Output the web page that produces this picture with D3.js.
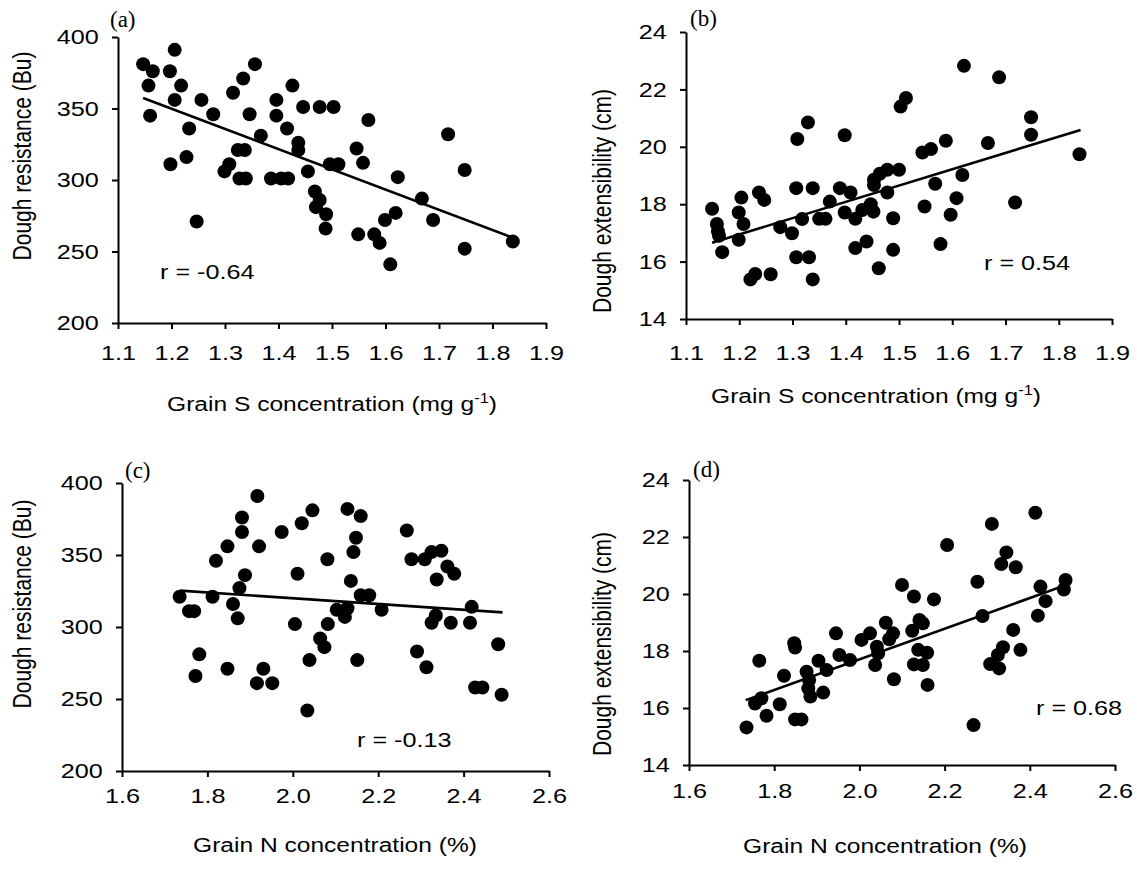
<!DOCTYPE html>
<html>
<head>
<meta charset="utf-8">
<script src="https://cdn.jsdelivr.net/npm/d3@7"></script>
<style>
  html, body { margin: 0; padding: 0; background: #fff; }
  svg { display: block; }
</style>
</head>
<body>
<svg id="chart" width="1137" height="869"></svg>
<script>
// panel (a): grain S vs dough resistance
var sConcA = [1.147,1.165,1.206,1.197,1.157,1.218,1.206,1.160,1.256,1.233,1.278,1.198,1.228,1.247,1.315,1.334,1.356,1.346,1.367,1.299,1.308,1.324,1.337,1.327,1.339,1.396,1.396,1.426,1.416,1.446,1.477,1.437,1.437,1.386,1.405,1.418,1.455,1.468,1.477,1.470,1.489,1.488,1.503,1.568,1.717,1.546,1.558,1.496,1.512,1.748,1.623,1.668,1.619,1.599,1.689,1.549,1.579,1.589,1.609,1.748,1.838];
var resistanceA = [381,376,391,376,366,366,356,345,356,336,346,311,316,271,361,371,381,346,331,306,311,321,321,301,301,356,345,366,336,351,351,326,321,301,301,301,306,292,286,281,276,266,351,342,332,322,312,311,311,307,302,287,277,272,272,262,262,256,241,252,257];

// panel (b): grain S vs dough extensibility
var sConcB = [1.149,1.158,1.160,1.162,1.168,1.204,1.199,1.208,1.199,1.221,1.230,1.237,1.247,1.259,1.277,1.299,1.309,1.329,1.307,1.338,1.318,1.307,1.331,1.338,1.350,1.362,1.370,1.398,1.389,1.409,1.398,1.418,1.431,1.447,1.418,1.439,1.453,1.464,1.462,1.622,1.688,1.513,1.503,1.748,1.748,1.588,1.544,1.560,1.667,1.839,1.500,1.478,1.453,1.619,1.568,1.478,1.608,1.452,1.548,1.597,1.489,1.718,1.489,1.578];
var extensB = [17.84,17.31,17.05,16.90,16.33,18.23,17.71,17.31,16.76,15.38,15.57,18.41,18.15,15.56,17.20,16.99,20.27,20.85,18.56,18.56,17.48,16.15,16.15,15.38,17.49,17.49,18.09,20.40,18.56,18.41,17.71,17.49,17.80,18.00,16.47,16.70,18.67,19.06,15.77,22.82,22.42,21.70,21.40,21.03,20.42,20.21,19.80,19.92,20.13,19.74,19.20,19.20,18.85,19.02,18.71,18.41,18.21,17.74,17.92,17.63,17.51,18.06,16.41,16.61];

// panel (c): grain N vs dough resistance
var nConcC = [1.735,1.757,1.769,1.781,1.772,1.812,1.820,1.847,1.847,1.860,1.871,1.875,1.888,1.881,1.881,1.917,1.921,1.931,1.916,1.952,1.974,2.005,2.011,2.021,2.046,2.039,2.034,2.064,2.074,2.081,2.082,2.128,2.159,2.148,2.142,2.267,2.278,2.309,2.325,2.348,2.362,2.378,2.337,2.136,2.159,2.179,2.103,2.128,2.122,2.208,2.335,2.325,2.370,2.419,2.415,2.151,2.291,2.313,2.481,2.427,2.444,2.489];
var resistanceC = [321,311,311,281,266,321,346,356,271,316,306,327,336,366,376,391,356,271,261,261,366,302,337,372,381,277,242,292,286,347,302,382,377,362,352,367,347,347,352,353,342,337,333,332,322,322,312,313,307,312,308,303,303,314,303,277,283,272,288,258,258,253];

// panel (d): grain N vs dough extensibility
var nConcD = [1.735,1.765,1.755,1.770,1.782,1.813,1.823,1.847,1.849,1.849,1.864,1.876,1.882,1.880,1.885,1.915,1.904,1.923,1.945,1.953,1.978,2.005,2.025,2.041,2.037,2.413,2.311,2.206,2.345,2.333,2.367,2.277,2.484,2.480,2.425,2.437,2.419,2.361,2.378,2.337,2.325,2.307,2.328,2.289,2.100,2.128,2.175,2.141,2.149,2.124,2.062,2.079,2.070,2.044,2.138,2.159,2.128,2.149,2.081,2.160,2.268];
var extensD = [15.32,17.66,16.16,16.34,15.73,16.13,17.13,18.27,18.12,15.60,15.60,17.27,16.98,16.69,16.40,16.54,17.66,17.33,18.62,17.86,17.68,18.39,18.62,18.15,17.51,22.85,22.46,21.72,21.46,21.05,20.94,20.43,20.49,20.16,20.26,19.75,19.24,18.74,18.04,18.13,17.86,17.54,17.39,19.23,20.32,19.91,19.81,19.09,18.97,18.71,18.99,18.62,18.41,17.92,18.04,17.94,17.53,17.51,17.01,16.81,15.40];

// fitted lines: [slope, intercept] and x span
var fitA = [-141.4, 519.5], fitSpanA = [1.147, 1.835];
var fitB = [5.68, 10.13], fitSpanB = [1.149, 1.841];
var fitC = [-20.0, 360.0], fitSpanC = [1.736, 2.491];
var fitD = [5.37, 6.97], fitSpanD = [1.733, 2.486];

var rLabels = ["r = -0.64", "r = 0.54", "r = -0.13", "r = 0.68"];
var panelLabels = ["(a)", "(b)", "(c)", "(d)"];

var sTicks = [1.1, 1.2, 1.3, 1.4, 1.5, 1.6, 1.7, 1.8, 1.9];
var nTicks = [1.6, 1.8, 2.0, 2.2, 2.4, 2.6];
var resistanceTicks = [200, 250, 300, 350, 400];
var extensTicks = [14, 16, 18, 20, 22, 24];

var resistanceTitle = "Dough resistance (Bu)";
var extensTitle = "Dough extensibility (cm)";
var sTitle = ["Grain S concentration (mg g", "-1", ")"];
var nTitle = ["Grain N concentration (%)"];
</script>
<script>
(function () {
  "use strict";

  var svg = d3.select("#chart");
  var sans = "Arial, 'Liberation Sans', Helvetica, sans-serif";
  var serif = "'Times New Roman', 'Liberation Serif', serif";
  // the scanned figure is a little wider than tall, so text is stretched sideways
  var wide = "scale(1.2,1)";

  var panels = [
    { xs: sConcA, ys: resistanceA, fit: fitA, span: fitSpanA, xTicks: sTicks, yTicks: resistanceTicks,
      xRange: [118, 546], yRange: [323, 37],
      xTitle: sTitle, yTitle: resistanceTitle, r: rLabels[0], label: panelLabels[0],
      rPos: [160, 279], labelPos: [110, 27], yTitlePos: [31, 156], xTitlePos: [332, 411], xPad: 16 },
    { xs: sConcB, ys: extensB, fit: fitB, span: fitSpanB, xTicks: sTicks, yTicks: extensTicks,
      xRange: [686, 1112], yRange: [319, 32],
      xTitle: sTitle, yTitle: extensTitle, r: rLabels[1], label: panelLabels[1],
      rPos: [984, 270], labelPos: [690, 26], yTitlePos: [611, 201], xTitlePos: [876, 403], xPad: 20 },
    { xs: nConcC, ys: resistanceC, fit: fitC, span: fitSpanC, xTicks: nTicks, yTicks: resistanceTicks,
      xRange: [122, 549], yRange: [771, 483],
      xTitle: nTitle, yTitle: resistanceTitle, r: rLabels[2], label: panelLabels[2],
      rPos: [357, 747], labelPos: [125, 478], yTitlePos: [31, 604], xTitlePos: [335, 852], xPad: 11 },
    { xs: nConcD, ys: extensD, fit: fitD, span: fitSpanD, xTicks: nTicks, yTicks: extensTicks,
      xRange: [689, 1115], yRange: [765, 480],
      xTitle: nTitle, yTitle: extensTitle, r: rLabels[3], label: panelLabels[3],
      rPos: [1036, 715], labelPos: [693, 477], yTitlePos: [611, 644], xTitlePos: [885, 853], xPad: 12 }
  ];

  function styleAxis(sel) {
    sel.attr("font-family", sans).attr("font-size", 21);
    sel.select(".domain").attr("stroke", "#000").attr("stroke-width", 2);
    sel.selectAll(".tick line").attr("stroke", "#000").attr("stroke-width", 2);
    sel.selectAll(".tick text").attr("fill", "#000").attr("transform", wide);
  }

  function drawPanel(p) {
    var x = d3.scaleLinear().domain(d3.extent(p.xTicks)).range(p.xRange);
    var y = d3.scaleLinear().domain(d3.extent(p.yTicks)).range(p.yRange);
    var g = svg.append("g");

    g.append("g")
      .attr("transform", "translate(0," + p.yRange[0] + ")")
      .call(d3.axisBottom(x).tickValues(p.xTicks).tickFormat(d3.format(".1f"))
        .tickSize(6).tickSizeOuter(0).tickPadding(p.xPad))
      .call(styleAxis);

    g.append("g")
      .attr("transform", "translate(" + p.xRange[0] + ",0)")
      .call(d3.axisLeft(y).tickValues(p.yTicks).tickFormat(d3.format("d"))
        .tickSize(6).tickSizeOuter(0).tickPadding(10))
      .call(styleAxis);

    var line = d3.line()
      .x(function (d) { return x(d); })
      .y(function (d) { return y(p.fit[0] * d + p.fit[1]); });
    g.append("path")
      .datum(p.span)
      .attr("d", line)
      .attr("fill", "none")
      .attr("stroke", "#000")
      .attr("stroke-width", 2.6);

    g.selectAll("circle")
      .data(d3.zip(p.xs, p.ys))
      .join("circle")
      .attr("cx", function (d) { return x(d[0]); })
      .attr("cy", function (d) { return y(d[1]); })
      .attr("r", 7)
      .attr("fill", "#000");

    g.append("text")
      .attr("transform", "translate(" + p.rPos[0] + "," + p.rPos[1] + ") " + wide)
      .attr("font-family", sans).attr("font-size", 21)
      .text(p.r);

    g.append("text")
      .attr("x", p.labelPos[0]).attr("y", p.labelPos[1])
      .attr("font-family", serif).attr("font-size", 23)
      .text(p.label);

    g.append("text")
      .attr("transform", "translate(" + p.yTitlePos[0] + "," + p.yTitlePos[1] + ") " + wide + " rotate(-90)")
      .attr("text-anchor", "middle")
      .attr("font-family", sans).attr("font-size", 21)
      .text(p.yTitle);

    var xt = g.append("text")
      .attr("transform", "translate(" + p.xTitlePos[0] + "," + p.xTitlePos[1] + ") scale(1.17,1)")
      .attr("text-anchor", "middle")
      .attr("font-family", sans).attr("font-size", 21);
    xt.append("tspan").text(p.xTitle[0]);
    if (p.xTitle.length > 1) {
      xt.append("tspan").attr("dy", -8).attr("font-size", 14).text(p.xTitle[1]);
      xt.append("tspan").attr("dy", 8).text(p.xTitle[2]);
    }
  }

  panels.forEach(drawPanel);
})();
</script>
</body>
</html>
